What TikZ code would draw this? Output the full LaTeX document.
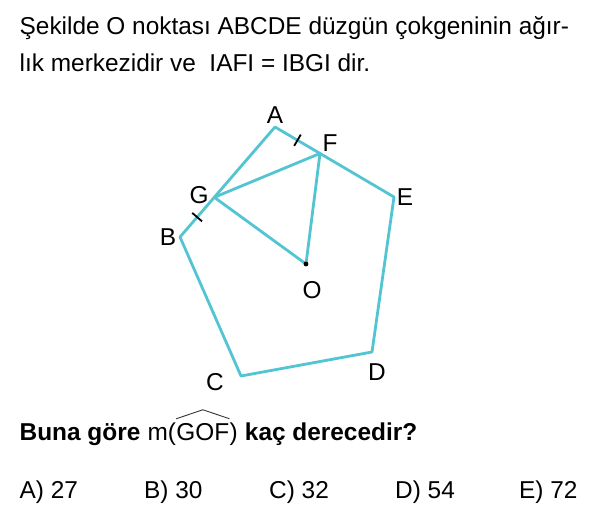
\documentclass[tikz,border=0pt]{standalone}
\usepackage{fontspec}
\setmainfont{Liberation Sans}
\usepackage{xcolor}
\usetikzlibrary{calc, positioning}

\definecolor{pentcyan}{RGB}{82,196,210}

\begin{document}
\begin{tikzpicture}[
    x=1pt, y=-1pt,
    txt/.style={inner sep=0pt, anchor=base west, font=\fontsize{24.4}{29}\selectfont},
    lbl/.style={inner sep=0pt, font=\fontsize{24.4}{29}\selectfont},
    side/.style={draw=pentcyan, line width=2.8pt, line join=round},
    tick/.style={draw=black, line width=1.8pt},
    hat/.style={draw=black!80, line width=0.9pt}
]
\useasboundingbox (0,0) rectangle (600,513);

% Question text
\node[txt] (t1) at (19.5,35) {Şekilde O noktası ABCDE düzgün çokgeninin ağır-};
\node[txt] (t2) at (19.5,72) {lık merkezidir ve\ \ IAFI = IBGI dir.};

% Pentagon corners
\coordinate (A) at (275,127);
\coordinate (B) at (180,237);
\coordinate (C) at (241,376);
\coordinate (D) at (372,352);
\coordinate (E) at (394,197);
\coordinate (O) at (306,264);
\coordinate (F) at ($(A)!0.378!(E)$);
\coordinate (G) at ($(B)!0.361!(A)$);

% Pentagon and segments
\draw[side] (A) -- (B) -- (C) -- (D) -- (E) -- cycle;
\draw[side] (G) -- (F) -- (O) -- (G);
\fill (O) circle (2.4pt);

% Equal marks
\draw[tick] ($(A)!0.5!(F)!6.5pt!90:(F)$) -- ($(A)!0.5!(F)!6.5pt!-90:(F)$);
\draw[tick] ($(B)!0.5!(G)!6.5pt!90:(G)$) -- ($(B)!0.5!(G)!6.5pt!-90:(G)$);

% Labels
\node[lbl] (lA) at (275,115) {A};
\node[lbl] (lF) at (330,143) {F};
\node[lbl] (lE) at (405,197) {E};
\node[lbl] (lD) at (377,372) {D};
\node[lbl] (lC) at (215,382) {C};
\node[lbl] (lB) at (168,237) {B};
\node[lbl] (lG) at (199,195) {G};
\node[lbl] (lO) at (312,290) {O};

% Question
\node[txt] (q1) at (19.5,440) {\bfseries Buna göre};
\node[txt] (q2) at ([xshift=6.8pt]q1.base east) {m(};
\node[txt] (gof) at (q2.base east) {GOF};
\node[txt] (q3) at (gof.base east) {)};
\node[txt] (q4) at ([xshift=6.8pt]q3.base east) {\bfseries kaç derecedir?};
\draw[hat] ([yshift=4pt]gof.north west) -- ([yshift=13pt]gof.north) -- ([yshift=4pt]gof.north east);

% Choices
\node[txt] (ca) at (19.5,498) {A) 27};
\node[txt] (cb) at (144,498) {B) 30};
\node[txt] (cc) at (269,498) {C) 32};
\node[txt] (cd) at (395,498) {D) 54};
\node[txt] (ce) at (519,498) {E) 72};

\end{tikzpicture}
\end{document}
